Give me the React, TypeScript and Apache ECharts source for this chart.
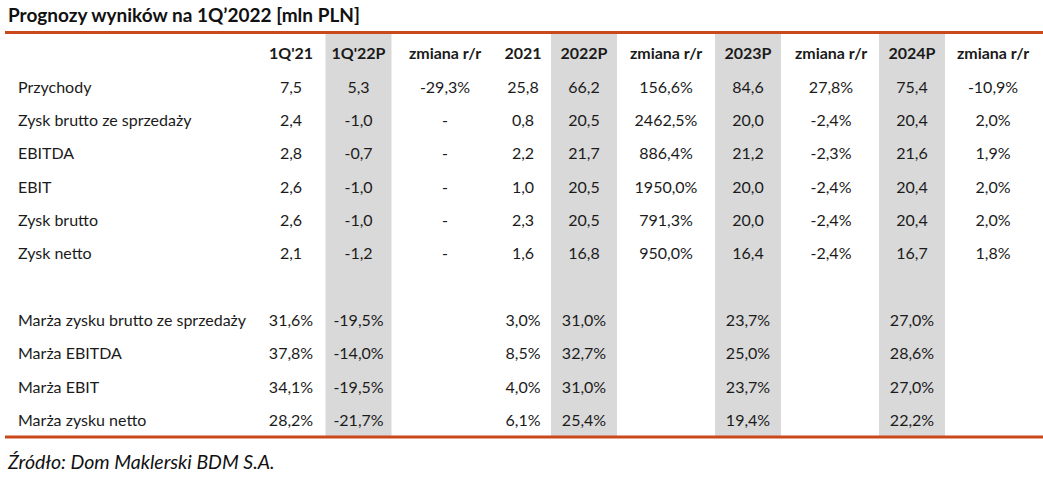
import React, { useEffect, useRef } from "react";
import * as echarts from "echarts";

// ---- data ----
const title = "Prognozy wyników na 1Q’2022 [mln PLN]";
const source = "Źródło: Dom Maklerski BDM S.A.";
const columns = ["1Q'21", "1Q'22P", "zmiana r/r", "2021", "2022P", "zmiana r/r", "2023P", "zmiana r/r", "2024P", "zmiana r/r"];
const rowNames = ["Przychody", "Zysk brutto ze sprzedaży", "EBITDA", "EBIT", "Zysk brutto", "Zysk netto"];
const q1_2021 = [7.5, 2.4, 2.8, 2.6, 2.6, 2.1];
const q1_2022P = [5.3, -1.0, -0.7, -1.0, -1.0, -1.2];
const changeQ1 = [-29.3, null, null, null, null, null];
const y2021 = [25.8, 0.8, 2.2, 1.0, 2.3, 1.6];
const y2022P = [66.2, 20.5, 21.7, 20.5, 20.5, 16.8];
const change2022 = [156.6, 2462.5, 886.4, 1950.0, 791.3, 950.0];
const y2023P = [84.6, 20.0, 21.2, 20.0, 20.0, 16.4];
const change2023 = [27.8, -2.4, -2.3, -2.4, -2.4, -2.4];
const y2024P = [75.4, 20.4, 21.6, 20.4, 20.4, 16.7];
const change2024 = [-10.9, 2.0, 1.9, 2.0, 2.0, 1.8];

const marginNames = ["Marża zysku brutto ze sprzedaży", "Marża EBITDA", "Marża EBIT", "Marża zysku netto"];
const m_q1_2021 = [31.6, 37.8, 34.1, 28.2];
const m_q1_2022P = [-19.5, -14.0, -19.5, -21.7];
const m_2021 = [3.0, 8.5, 4.0, 6.1];
const m_2022P = [31.0, 32.7, 31.0, 25.4];
const m_2023P = [23.7, 25.0, 23.7, 19.4];
const m_2024P = [27.0, 28.6, 27.0, 22.2];

// ---- layout (pixels / styles) ----
const W = 1043;
const H = 479;
const colCenter = [291, 358.5, 445, 523, 584, 666, 748, 831, 912, 993];
const shadedCols = [1, 4, 6, 8];
const shadeHalf = 33;
const labelX = 18;
const ORANGE = "#C9491B";
const GREY = "#D9D9D9";
const TEXT = "#1b1b1b";
const FONT = "Lato, 'Open Sans', sans-serif";

const fmt = (v: number | null, pct: boolean) =>
  v === null ? "-" : v.toFixed(1).replace(".", ",") + (pct ? "%" : "");

type Cell = { x: number; y: number; text: string; align: string; bold: boolean };

function buildCells(): Cell[] {
  const cells: Cell[] = [];
  columns.forEach((c, i) => cells.push({ x: colCenter[i], y: 0, text: c, align: "center", bold: true }));
  const mainCols: [(number | null)[], boolean][] = [
    [q1_2021, false], [q1_2022P, false], [changeQ1, true], [y2021, false], [y2022P, false],
    [change2022, true], [y2023P, false], [change2023, true], [y2024P, false], [change2024, true],
  ];
  rowNames.forEach((n, r) => {
    const row = r + 1;
    cells.push({ x: labelX, y: row, text: n, align: "left", bold: false });
    mainCols.forEach(([arr, pct], c) => {
      cells.push({ x: colCenter[c], y: row, text: fmt(arr[r], pct), align: "center", bold: false });
    });
  });
  const marginCols: [number[], number][] = [
    [m_q1_2021, 0], [m_q1_2022P, 1], [m_2021, 3], [m_2022P, 4], [m_2023P, 6], [m_2024P, 8],
  ];
  marginNames.forEach((n, r) => {
    const row = r + 8;
    cells.push({ x: labelX, y: row, text: n, align: "left", bold: false });
    marginCols.forEach(([arr, c]) => {
      cells.push({ x: colCenter[c], y: row, text: fmt(arr[r], true), align: "center", bold: false });
    });
  });
  return cells;
}

export default function App() {
  const ref = useRef<HTMLDivElement>(null);
  useEffect(() => {
    if (!ref.current) return;
    const chart = echarts.init(ref.current, undefined, { renderer: "svg", width: W, height: H });
    const cells = buildCells();
    const option: any = {
      animation: false,
      backgroundColor: "#ffffff",
      grid: { left: 0, right: 0, top: 34, bottom: 42 },
      xAxis: { type: "value", min: 0, max: W, show: false },
      yAxis: { type: "value", min: -0.57, max: 11.53, inverse: true, show: false },
      series: [
        {
          type: "custom",
          coordinateSystem: "cartesian2d",
          silent: true,
          data: cells.map((c) => [c.x, c.y]),
          renderItem: (params: any, api: any) => {
            const cell = cells[params.dataIndex];
            const p = api.coord([api.value(0), api.value(1)]);
            return {
              type: "text",
              x: p[0],
              y: p[1],
              style: {
                text: cell.text,
                fill: TEXT,
                fontSize: 16,
                fontFamily: FONT,
                fontWeight: cell.bold ? "bold" : "normal",
                align: cell.align,
                verticalAlign: "middle",
              },
            };
          },
          markArea: {
            silent: true,
            itemStyle: { color: GREY },
            data: shadedCols.map((c) => [{ xAxis: colCenter[c] - shadeHalf }, { xAxis: colCenter[c] + shadeHalf }]),
          },
          z: 2,
        },
      ],
      graphic: [
        {
          type: "text",
          left: 8,
          top: 5,
          style: { text: title, fill: "#111", fontSize: 19, fontWeight: "bold", fontFamily: FONT },
        },
        {
          type: "line",
          shape: { x1: 5, y1: 32.5, x2: W, y2: 32.5 },
          style: { stroke: ORANGE, lineWidth: 3 },
          z: 10,
        },
        {
          type: "line",
          shape: { x1: 5, y1: 437, x2: W, y2: 437 },
          style: { stroke: ORANGE, lineWidth: 3 },
          z: 10,
        },
        {
          type: "text",
          left: 8,
          top: 451,
          style: { text: source, fill: "#111", fontSize: 19.5, fontStyle: "italic", fontFamily: FONT },
        },
      ],
    };
    chart.setOption(option);
    return () => chart.dispose();
  }, []);
  return <div ref={ref} style={{ position: "fixed", left: 0, top: 0, width: W, height: H }} />;
}
